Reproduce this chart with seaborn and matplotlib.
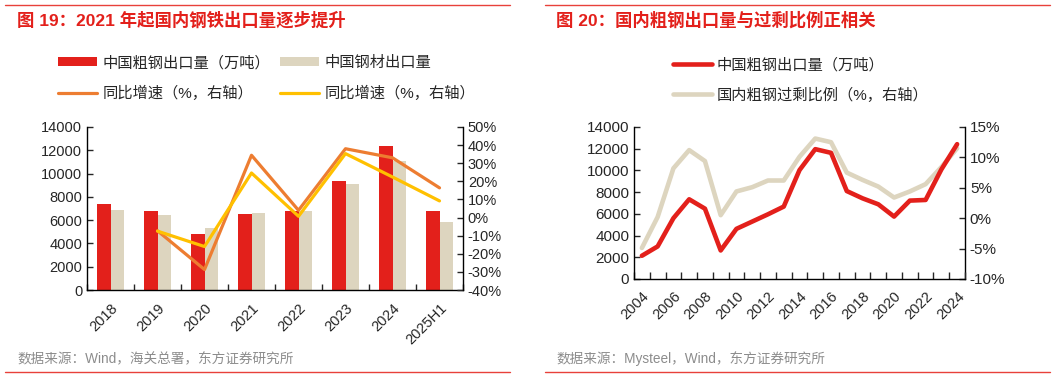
import numpy as np
import pandas as pd
import matplotlib
matplotlib.use("Agg")
import matplotlib.pyplot as plt
from matplotlib.lines import Line2D
from matplotlib.patches import Patch
from matplotlib.ticker import FuncFormatter
import seaborn as sns

# ── Data: chart 19 ────────────────────────────────────────────────────────────
years19 = ["2018", "2019", "2020", "2021", "2022", "2023", "2024", "2025H1"]
crude_export = [7400, 6800, 4850, 6550, 6750, 9400, 12400, 6750]      # 万吨
steel_export = [6900, 6400, 5350, 6650, 6750, 9100, 11100, 5800]
crude_yoy = [-7.3, -28.7, 34.4, 4.0, 38.0, 33.0, 16.4]                 # 2019..2025H1
steel_yoy = [-7.5, -16.0, 24.6, 0.7, 35.3, 22.4, 9.2]

# ── Data: chart 20 ────────────────────────────────────────────────────────────
years20 = list(range(2004, 2025))
export20 = [2140, 3000, 5600, 7340, 6480, 2630, 4620, 5290, 5960, 6670, 10030,
            11960, 11620, 8100, 7430, 6880, 5750, 7220, 7280, 10090, 12420]
surplus20 = [-4.9, 0.2, 8.2, 11.2, 9.4, 0.5, 4.4, 5.1, 6.2, 6.2, 10.1,
             13.1, 12.5, 7.5, 6.3, 5.2, 3.4, 4.4, 5.6, 8.4, 11.5]

RED = "#E3201B"
BEIGE = "#DDD5BF"
ORANGE = "#ED7D31"
YELLOW = "#FFC000"
LINE_RED = "#E8413A"

sns.set_theme(style="white")
plt.rcParams["font.family"] = ["Liberation Sans", "Noto Sans CJK SC", "DejaVu Sans"]
plt.rcParams["axes.unicode_minus"] = False

fig = plt.figure(figsize=(10.61, 3.78), dpi=100)
W, H = 1061, 378


def fx(px):
    return px / W


def fy(py):
    return 1 - py / H


def style_axes(ax, ax2):
    for a in (ax, ax2):
        for s in a.spines.values():
            s.set_color("black")
            s.set_linewidth(1.0)
        a.spines["top"].set_visible(False)
    ax.spines["right"].set_visible(False)
    ax2.spines["left"].set_visible(False)
    ax2.spines["bottom"].set_visible(False)


# ── Decorations (red rules, titles, sources) ─────────────────────────────────
for x0, x1 in [(5, 510), (545, 1050)]:
    fig.add_artist(Line2D([fx(x0), fx(x1)], [fy(5), fy(5)], color=LINE_RED, lw=1.0))
    fig.add_artist(Line2D([fx(x0), fx(x1)], [fy(372), fy(372)], color=LINE_RED, lw=1.0))

fig.text(fx(17), fy(20), "图 19：2021 年起国内钢铁出口量逐步提升", color=RED,
         fontsize=12.5, fontweight="bold", va="center", ha="left")
fig.text(fx(556), fy(20), "图 20：国内粗钢出口量与过剩比例正相关", color=RED,
         fontsize=12.5, fontweight="bold", va="center", ha="left")
fig.text(fx(17), fy(359), "数据来源：Wind，海关总署，东方证券研究所", color="#8C8C8C",
         fontsize=9.8, va="center", ha="left")
fig.text(fx(556), fy(359), "数据来源：Mysteel，Wind，东方证券研究所", color="#8C8C8C",
         fontsize=9.8, va="center", ha="left")

# ── Chart 19: bars + yoy lines ───────────────────────────────────────────────
ax1 = fig.add_axes([fx(87), fy(290), fx(463) - fx(87), fy(127) - fy(290)])
df19 = pd.DataFrame({
    "year": years19 * 2,
    "value": crude_export + steel_export,
    "series": ["粗钢"] * len(years19) + ["钢材"] * len(years19),
})
sns.barplot(data=df19, x="year", y="value", hue="series", hue_order=["粗钢", "钢材"],
            palette=[RED, BEIGE], width=0.57, linewidth=0, saturation=1,
            legend=False, ax=ax1)
ax1.set_ylim(0, 14000)
ax1.set_yticks(range(0, 14001, 2000))
ax1.set_xlabel("")
ax1.set_ylabel("")

ax1b = ax1.twinx()
xpos = np.arange(1, len(years19))
sns.lineplot(x=xpos, y=crude_yoy, ax=ax1b, color=ORANGE, lw=2.3)
sns.lineplot(x=xpos, y=steel_yoy, ax=ax1b, color=YELLOW, lw=2.3)
ax1b.set_ylim(-40, 50)
ax1b.set_yticks(range(-40, 51, 10))
ax1b.yaxis.set_major_formatter(FuncFormatter(lambda v, p: f"{v:.0f}%"))

ax1.set_xlim(-0.5, len(years19) - 0.5)
ax1.set_xticks(np.arange(-0.5, len(years19), 1.0))
ax1.set_xticklabels([])
ax1.set_xticks(np.arange(len(years19)), minor=True)
ax1.set_xticklabels(years19, minor=True, rotation=45, ha="right", rotation_mode="anchor")
ax1.tick_params(axis="x", which="major", direction="in", length=4, width=1, bottom=True)
ax1.tick_params(axis="x", which="minor", length=0, labelsize=10.5, pad=8)
ax1.tick_params(axis="y", direction="in", length=4, width=1, left=True, labelsize=10.5)
ax1b.tick_params(axis="y", direction="in", length=4, width=1, right=True, labelsize=10.5)
style_axes(ax1, ax1b)

h19 = [Patch(color=RED, lw=0), Line2D([], [], color=ORANGE, lw=2.3),
       Patch(color=BEIGE, lw=0), Line2D([], [], color=YELLOW, lw=2.3)]
l19 = ["中国粗钢出口量（万吨）", "同比增速（%，右轴）", "中国钢材出口量", "同比增速（%，右轴）"]
fig.legend(h19, l19, ncol=2, loc="upper left", bbox_to_anchor=(fx(50), fy(48)),
           frameon=False, fontsize=11, handlelength=2.6, handleheight=0.5,
           handletextpad=0.35, columnspacing=0.6, labelspacing=1.0, borderpad=0)

# ── Chart 20: two lines ──────────────────────────────────────────────────────
ax2 = fig.add_axes([fx(634), fy(279), fx(965) - fx(634), fy(127) - fy(279)])
sns.lineplot(x=years20, y=export20, ax=ax2, color=RED, lw=3.3)
ax2.set_ylim(0, 14000)
ax2.set_yticks(range(0, 14001, 2000))

ax2b = ax2.twinx()
sns.lineplot(x=years20, y=surplus20, ax=ax2b, color=BEIGE, lw=3.3)
ax2b.set_ylim(-10, 15)
ax2b.set_yticks(range(-10, 16, 5))
ax2b.yaxis.set_major_formatter(FuncFormatter(lambda v, p: f"{v:.0f}%"))
ax2.set_zorder(ax2b.get_zorder() + 1)
ax2.patch.set_visible(False)

ax2.set_xlim(years20[0] - 0.5, years20[-1] + 0.5)
ax2.set_xticks(np.arange(years20[0] - 0.5, years20[-1] + 1, 1.0))
ax2.set_xticklabels([])
ax2.set_xticks(years20[::2], minor=True)
ax2.set_xticklabels([str(y) for y in years20[::2]], minor=True, rotation=45,
                    ha="right", rotation_mode="anchor")
ax2.tick_params(axis="x", which="major", direction="in", length=5, width=1, bottom=True)
ax2.tick_params(axis="x", which="minor", length=0, labelsize=10.5, pad=7)
ax2.tick_params(axis="y", direction="in", length=4, width=1, left=True, labelsize=11)
ax2b.tick_params(axis="y", direction="in", length=4, width=1, right=True, labelsize=11)
ax2.set_xlabel("")
ax2.set_ylabel("")
style_axes(ax2, ax2b)

h20 = [Line2D([], [], color=RED, lw=3.3), Line2D([], [], color=BEIGE, lw=3.3)]
l20 = ["中国粗钢出口量（万吨）", "国内粗钢过剩比例（%，右轴）"]
fig.legend(h20, l20, ncol=1, loc="upper left", bbox_to_anchor=(fx(665), fy(50)),
           frameon=False, fontsize=11, handlelength=2.6, handletextpad=0.25,
           labelspacing=1.0, borderpad=0)

fig.savefig("out.png", dpi=100)
